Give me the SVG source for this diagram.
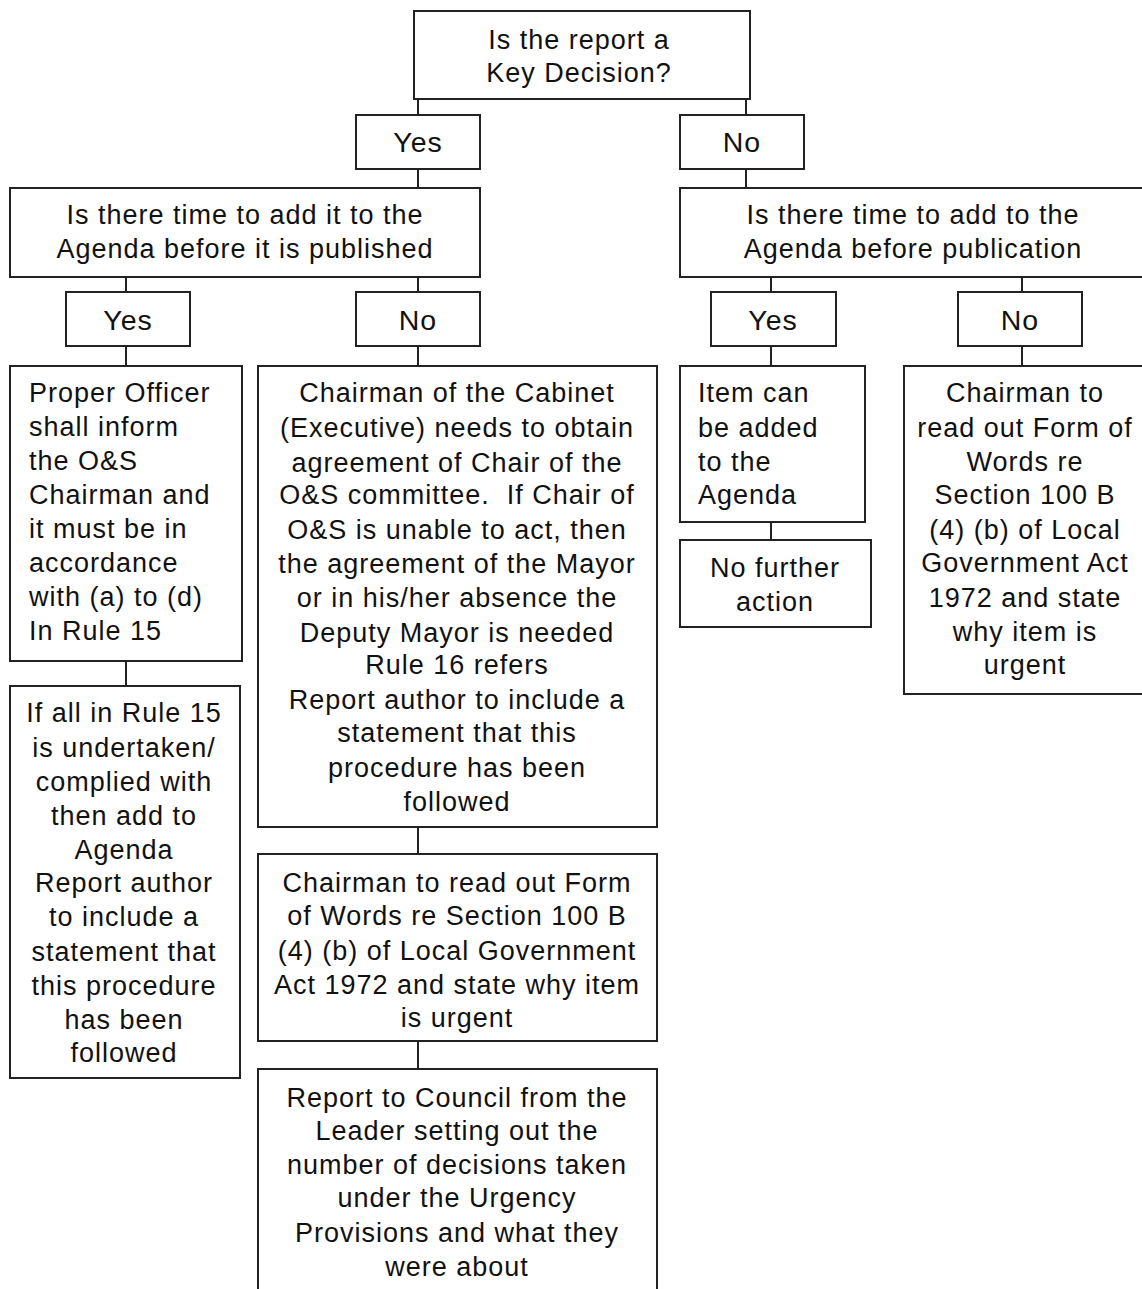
<svg xmlns="http://www.w3.org/2000/svg" width="1142" height="1289" viewBox="0 0 1142 1289">
<style>
.b{fill:#fff;stroke:#222;stroke-width:2}
.c{stroke:#222;stroke-width:2;fill:none}
text{font-family:"Liberation Sans",Arial,sans-serif;font-size:27px;fill:#111;letter-spacing:1px}
.m{text-anchor:middle}
.yn{font-size:28.5px}
</style>
<rect width="1142" height="1289" fill="#fff"/>
<g id="connectors">
<path class="c" d="M418 99V115M746 99V115M418 169V188M746 169V188M126 277V292M418 277V292M771 277V292M1022 277V292M126 346V366M418 346V366M771 346V366M1022 346V366M771 522V540M126 661V686M418 827V854M418 1041V1069"/>
</g>
<g id="n_key"><rect class="b" x="414" y="11" width="336" height="88"/><text class="m" x="579" y="49">Is the report a</text><text class="m" x="579" y="82">Key Decision?</text></g>
<g id="n_yes1"><rect class="b" x="356" y="115" width="124" height="54"/><text class="m yn" x="418" y="152">Yes</text></g>
<g id="n_no1"><rect class="b" x="680" y="115" width="124" height="54"/><text class="m yn" x="742" y="152">No</text></g>
<g id="n_q1"><rect class="b" x="10" y="188" width="470" height="89"/><text class="m" x="245" y="224">Is there time to add it to the</text><text class="m" x="245" y="258">Agenda before it is published</text></g>
<g id="n_q2"><rect class="b" x="680" y="188" width="480" height="89"/><text class="m" x="913" y="224">Is there time to add to the</text><text class="m" x="913" y="258">Agenda before publication</text></g>
<g id="n_yes2"><rect class="b" x="66" y="292" width="124" height="54"/><text class="m yn" x="128" y="330">Yes</text></g>
<g id="n_no2"><rect class="b" x="356" y="292" width="124" height="54"/><text class="m yn" x="418" y="330">No</text></g>
<g id="n_yes3"><rect class="b" x="711" y="292" width="125" height="54"/><text class="m yn" x="773" y="330">Yes</text></g>
<g id="n_no3"><rect class="b" x="958" y="292" width="124" height="54"/><text class="m yn" x="1020" y="330">No</text></g>
<g id="n_proper"><rect class="b" x="10" y="366" width="232" height="295"/>
<text x="29" y="402">Proper Officer</text><text x="29" y="436">shall inform</text><text x="29" y="470">the O&amp;S</text><text x="29" y="504">Chairman and</text><text x="29" y="538">it must be in</text><text x="29" y="572">accordance</text><text x="29" y="606">with (a) to (d)</text><text x="29" y="640">In Rule 15</text></g>
<g id="n_cabinet"><rect class="b" x="258" y="366" width="399" height="461"/>
<text class="m" x="457" y="402">Chairman of the Cabinet</text><text class="m" x="457" y="437">(Executive) needs to obtain</text><text class="m" x="457" y="472">agreement of Chair of the</text><text class="m" x="457" y="504" xml:space="preserve">O&amp;S committee.  If Chair of</text><text class="m" x="457" y="539">O&amp;S is unable to act, then</text><text class="m" x="457" y="573">the agreement of the Mayor</text><text class="m" x="457" y="607">or in his/her absence the</text><text class="m" x="457" y="642">Deputy Mayor is needed</text><text class="m" x="457" y="674">Rule 16 refers</text><text class="m" x="457" y="709">Report author to include a</text><text class="m" x="457" y="742">statement that this</text><text class="m" x="457" y="777">procedure has been</text><text class="m" x="457" y="811">followed</text></g>
<g id="n_item"><rect class="b" x="680" y="366" width="185" height="156"/>
<text x="698" y="402">Item can</text><text x="698" y="437">be added</text><text x="698" y="471">to the</text><text x="698" y="504">Agenda</text></g>
<g id="n_nofurther"><rect class="b" x="680" y="540" width="191" height="87"/><text class="m" x="775" y="577">No further</text><text class="m" x="775" y="611">action</text></g>
<g id="n_chair_r"><rect class="b" x="904" y="366" width="260" height="328"/>
<text class="m" x="1025" y="402">Chairman to</text><text class="m" x="1025" y="437">read out Form of</text><text class="m" x="1025" y="471">Words re</text><text class="m" x="1025" y="504">Section 100 B</text><text class="m" x="1025" y="539">(4) (b) of Local</text><text class="m" x="1025" y="572">Government Act</text><text class="m" x="1025" y="607">1972 and state</text><text class="m" x="1025" y="641">why item is</text><text class="m" x="1025" y="674">urgent</text></g>
<g id="n_ifall"><rect class="b" x="10" y="686" width="230" height="392"/>
<text class="m" x="124" y="722">If all in Rule 15</text><text class="m" x="124" y="757">is undertaken/</text><text class="m" x="124" y="791">complied with</text><text class="m" x="124" y="825">then add to</text><text class="m" x="124" y="859">Agenda</text><text class="m" x="124" y="892">Report author</text><text class="m" x="124" y="926">to include a</text><text class="m" x="124" y="961">statement that</text><text class="m" x="124" y="995">this procedure</text><text class="m" x="124" y="1029">has been</text><text class="m" x="124" y="1062">followed</text></g>
<g id="n_chair_m"><rect class="b" x="258" y="854" width="399" height="187"/>
<text class="m" x="457" y="892">Chairman to read out Form</text><text class="m" x="457" y="925">of Words re Section 100 B</text><text class="m" x="457" y="960">(4) (b) of Local Government</text><text class="m" x="457" y="994">Act 1972 and state why item</text><text class="m" x="457" y="1027">is urgent</text></g>
<g id="n_report"><rect class="b" x="258" y="1069" width="399" height="240"/>
<text class="m" x="457" y="1107">Report to Council from the</text><text class="m" x="457" y="1140">Leader setting out the</text><text class="m" x="457" y="1174">number of decisions taken</text><text class="m" x="457" y="1207">under the Urgency</text><text class="m" x="457" y="1242">Provisions and what they</text><text class="m" x="457" y="1276">were about</text></g>
</svg>
